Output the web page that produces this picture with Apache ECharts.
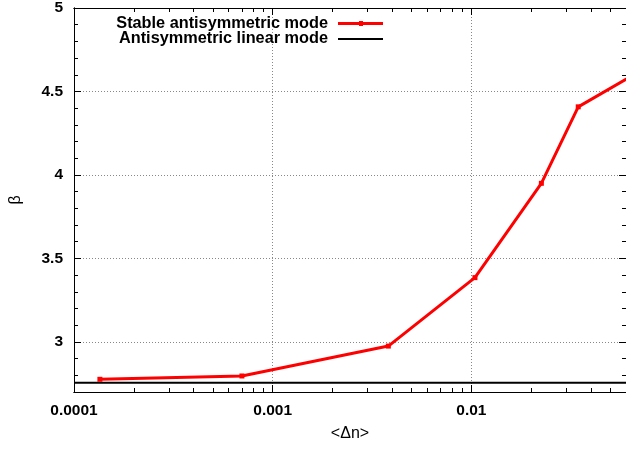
<!DOCTYPE html>
<html>
<head>
<meta charset="utf-8">
<script src="https://cdn.jsdelivr.net/npm/echarts@6/dist/echarts.min.js"></script>
<style>html,body{margin:0;padding:0;background:#fff}#c{width:626px;height:449px}</style>
</head>
<body>
<div id="c"></div>
<script>
// Data
var stableX = [0.000135, 0.0007, 0.00382, 0.01042, 0.0225, 0.0345, 0.07];
var stableY = [2.776, 2.796, 2.975, 3.385, 3.950, 4.408, 4.619];
var linearX = [0.0001, 0.06];
var linearY = [2.756, 2.756];
var xMajorTicks = [0.0001, 0.001, 0.01];
var xMajorLabels = ['0.0001', '0.001', '0.01'];
var xMinorTicks = [0.0002,0.0003,0.0004,0.0005,0.0006,0.0007,0.0008,0.0009,
                   0.002,0.003,0.004,0.005,0.006,0.007,0.008,0.009,
                   0.02,0.03,0.04,0.05];
var yMajorTicks = [3, 3.5, 4, 4.5, 5];
var yMinorTicks = [2.8,2.9,3.1,3.2,3.3,3.4,3.6,3.7,3.8,3.9,4.1,4.2,4.3,4.4,4.6,4.7,4.8,4.9];
var seriesNames = ['Stable antisymmetric mode', 'Antisymmetric linear mode'];
var xName = '<\u0394n>';
var yName = '\u03b2';

var FONT = '"Liberation Sans", Arial, Helvetica, sans-serif';
var X_MIN = 0.0001, X_MAX = 0.06, Y_MIN = 2.7, Y_MAX = 5;

function pairs(xs, ys) { return xs.map(function (x, i) { return [x, ys[i]]; }); }

function xAxisDef(pos, ticks, len, major) {
  return {
    type: 'log', logBase: 10, position: pos, min: X_MIN, max: X_MAX,
    axisLine: { show: true, onZero: false, lineStyle: { color: '#000', width: 1 } },
    axisTick: { show: true, inside: true, length: len, customValues: ticks, lineStyle: { color: '#000', width: 1 } },
    axisLabel: (major && pos === 'bottom') ? {
      show: true, customValues: xMajorTicks, margin: 11,
      fontFamily: FONT, fontWeight: 'bold', fontSize: 15.5, color: '#000',
      formatter: function (v) {
        for (var i = 0; i < xMajorTicks.length; i++) if (Math.abs(Math.log10(v) - Math.log10(xMajorTicks[i])) < 1e-6) return xMajorLabels[i];
        return '';
      }
    } : { show: false },
    splitLine: (major && pos === 'bottom') ? { show: true, lineStyle: { color: '#888', type: [1, 2], width: 1 } } : { show: false },
    minorTick: { show: false },
    name: (major && pos === 'bottom') ? xName : '',
    nameLocation: 'middle', nameGap: 34,
    nameTextStyle: { fontFamily: FONT, fontSize: 16, color: '#000' }
  };
}
function yAxisDef(pos, ticks, len, major) {
  return {
    type: 'value', position: pos, min: Y_MIN, max: Y_MAX,
    axisLine: { show: true, onZero: false, lineStyle: { color: '#000', width: 1 } },
    axisTick: { show: true, inside: true, length: len, customValues: ticks, lineStyle: { color: '#000', width: 1 } },
    axisLabel: (major && pos === 'left') ? {
      show: true, customValues: yMajorTicks, margin: 11,
      fontFamily: FONT, fontWeight: 'bold', fontSize: 15.5, color: '#000'
    } : { show: false },
    splitLine: (major && pos === 'left') ? { show: true, lineStyle: { color: '#888', type: [1, 2], width: 1 } } : { show: false },
    name: (major && pos === 'left') ? yName : '',
    nameLocation: 'middle', nameGap: 50, nameRotate: 90,
    nameTextStyle: { fontFamily: FONT, fontSize: 16, color: '#000' }
  };
}

var legendText = { fontFamily: FONT, fontWeight: 'bold', fontSize: 16.3, color: '#000', padding: [0, 5, 0, 0] };

var chart = echarts.init(document.getElementById('c'), null, { renderer: 'canvas' });
chart.setOption({
  animation: false,
  backgroundColor: '#fff',
  grid: { left: 73, top: 7, width: 554, height: 385, containLabel: false },
  xAxis: [
    xAxisDef('bottom', xMajorTicks, 7, true),
    xAxisDef('bottom', xMinorTicks, 4, false),
    xAxisDef('top', xMajorTicks, 7, false),
    xAxisDef('top', xMinorTicks, 4, false)
  ],
  yAxis: [
    yAxisDef('left', yMajorTicks, 7, true),
    yAxisDef('left', yMinorTicks, 4, false),
    yAxisDef('right', yMajorTicks, 7, false),
    yAxisDef('right', yMinorTicks, 4, false)
  ],
  legend: [
    {
      data: [{ name: seriesNames[0], icon: 'path://M0,1 L45,1 L45,4 L0,4 Z M21,0 L25,0 L25,5 L21,5 Z' }],
      orient: 'vertical', align: 'right', right: 238, top: 10.5,
      itemWidth: 45, itemHeight: 5, textStyle: legendText
    },
    {
      data: [{ name: seriesNames[1], icon: 'path://M0,0 L45,0 L45,2 L0,2 Z' }],
      orient: 'vertical', align: 'right', right: 238, top: 26,
      itemWidth: 45, itemHeight: 2, textStyle: legendText
    }
  ],
  series: [
    {
      name: seriesNames[1], type: 'line', xAxisIndex: 0, yAxisIndex: 0,
      data: pairs(linearX, linearY), symbol: 'none', clip: true,
      lineStyle: { color: '#000', width: 2 }, itemStyle: { color: '#000' }, z: 2
    },
    {
      name: seriesNames[0], type: 'line', xAxisIndex: 0, yAxisIndex: 0,
      data: pairs(stableX, stableY), symbol: 'rect', symbolSize: 5, clip: true,
      lineStyle: { color: '#ff0000', width: 3 }, itemStyle: { color: '#ff0000' }, z: 3
    }
  ]
});
</script>
</body>
</html>
